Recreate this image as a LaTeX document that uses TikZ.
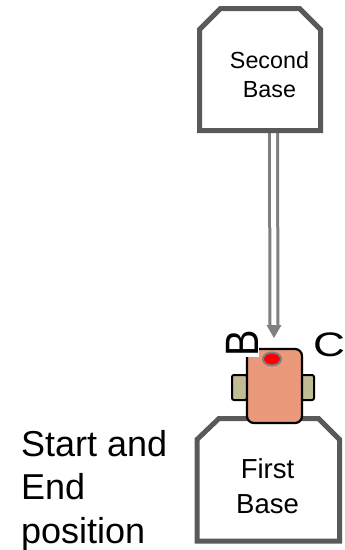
\documentclass[tikz,border=0pt]{standalone}
\usepackage{fontspec}
\setmainfont{Liberation Sans}
\usetikzlibrary{calc}
\definecolor{baseline}{HTML}{595959}
\definecolor{arrowgray}{HTML}{7F7F7F}
\definecolor{bodyfill}{HTML}{EA9A7A}
\definecolor{wheelfill}{HTML}{BFBC96}
\definecolor{ringgray}{HTML}{808080}
\tikzset{
  baseframe/.style={draw=none, inner sep=0pt, outer sep=0pt},
  baseoutline/.style={draw=baseline, line width=5pt, fill=white, line join=miter},
  dblconn/.style={draw=arrowgray, line width=3pt, double=white, double distance=5pt},
  wheelbox/.style={draw=black, line width=2pt, fill=wheelfill, rounded corners=2pt},
  bodybox/.style={draw=black, line width=2.2pt, fill=bodyfill, rounded corners=7pt},
  sensor/.style={draw=ringgray, line width=2pt, fill=red},
  lbl/.style={inner sep=0pt, outer sep=0pt}
}
\begin{document}
\begin{tikzpicture}[x=1pt, y=-1pt]
\useasboundingbox (0,0) rectangle (345,550);
% base frames
\node[baseframe, minimum width=121pt, minimum height=122pt] (sbase) at (260,69.5) {};
\node[baseframe, minimum width=142.5pt, minimum height=122.5pt] (fbase) at (268.25,479.75) {};
% connector
\coordinate (atip) at (274,338);
\draw[dblconn] ([xshift=13.5pt]sbase.south) -- ([yshift=13pt]atip);
\fill[arrowgray] ([xshift=-7.5pt,yshift=13pt]atip) -- ([xshift=7.5pt,yshift=13pt]atip) -- (atip) -- cycle;
% second base outline
\draw[baseoutline] ([yshift=-21pt]sbase.north west) -- ([xshift=21pt]sbase.north west)
  -- ([xshift=-21pt]sbase.north east) -- ([yshift=-21pt]sbase.north east)
  -- (sbase.south east) -- (sbase.south west) -- cycle;
% first base outline
\draw[baseoutline] ([yshift=-21pt]fbase.north west) -- ([xshift=22pt]fbase.north west)
  -- ([xshift=-21pt]fbase.north east) -- ([yshift=-21pt]fbase.north east)
  -- (fbase.south east) -- (fbase.south west) -- cycle;
% base texts
\node[lbl, align=center, anchor=base, font=\fontsize{23.3}{29}\selectfont] (stext) at (269.5,97.3) {Second\\Base};
\node[lbl, align=center, anchor=base, font=\fontsize{27.5}{35}\selectfont] (ftext) at (267.5,513) {First\\Base};
% left text
\node[lbl, align=left, anchor=base west, font=\fontsize{36}{43.5}\selectfont] (start) at (21,543) {Start and\\End\\position};
% robot
\node[wheelbox, minimum width=15pt, minimum height=25pt, inner sep=0pt] (lwheel) at (239.5,387.5) {};
\node[wheelbox, minimum width=15pt, minimum height=25pt, inner sep=0pt] (rwheel) at (306.5,387.5) {};
\node[bodybox, minimum width=55pt, minimum height=74pt, inner sep=0pt] (body) at (274.5,386) {};
\draw[sensor] (272,359) ellipse [x radius=9pt, y radius=6.5pt];
% labels
\node[lbl, fill=white, inner sep=0.5pt, rotate=90, font=\fontsize{36}{36}\selectfont] (blabel) at (242,343.5) {\scalebox{1.1}[1.3]{B}};
\node[lbl, anchor=west, font=\fontsize{34}{34}\selectfont] (clabel) at (313,344.5) {\scalebox{1.3}[1]{C}};
\end{tikzpicture}
\end{document}
